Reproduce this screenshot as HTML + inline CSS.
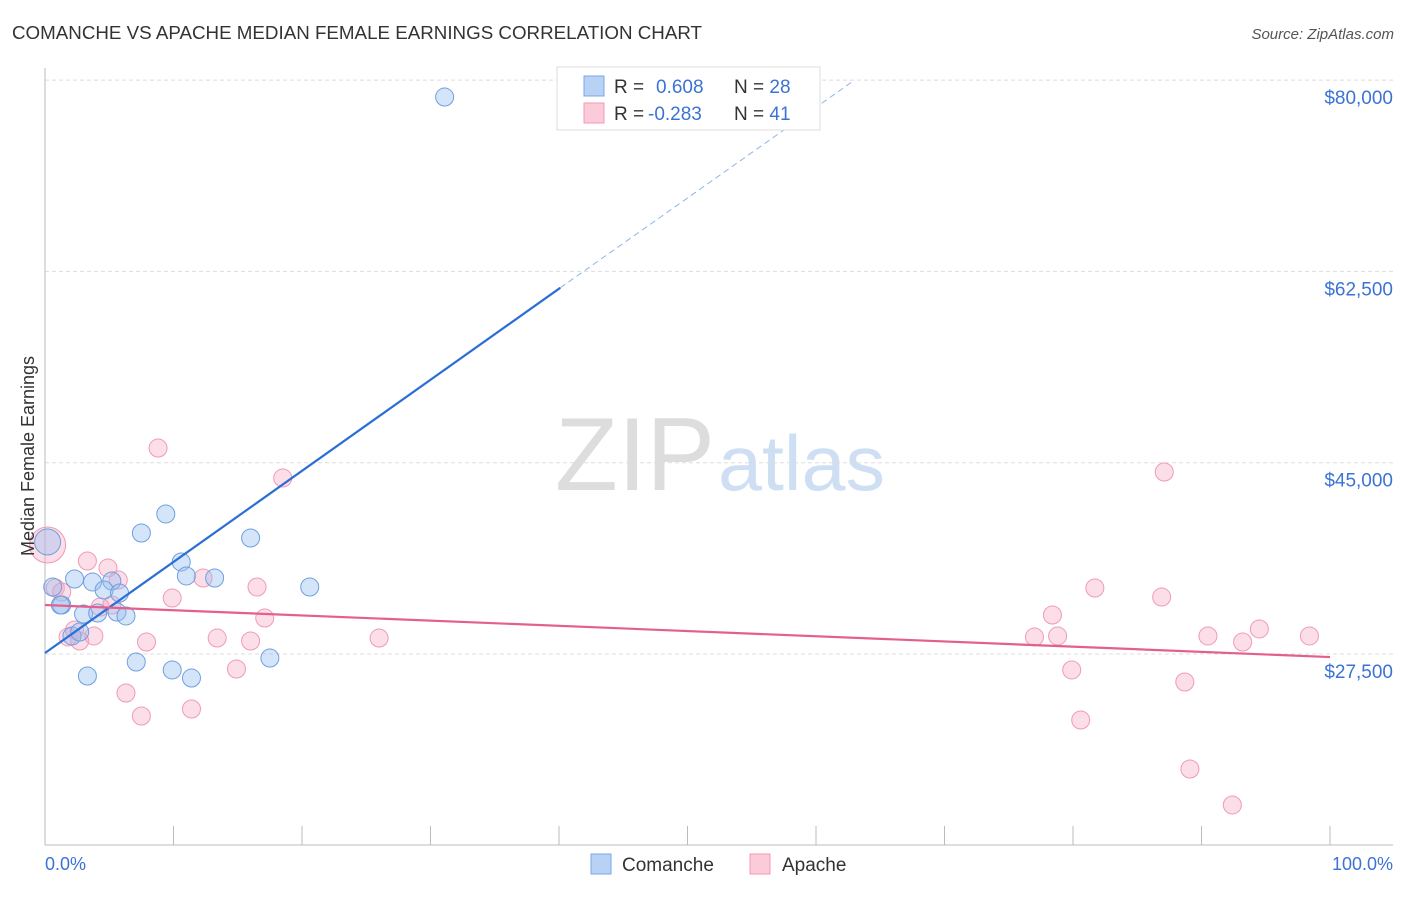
<!DOCTYPE html>
<html><head><meta charset="utf-8"><style>
body{margin:0;background:#fff;font-family:"Liberation Sans",sans-serif}
svg text{font-family:"Liberation Sans",sans-serif}
</style></head><body>
<svg id="c" width="1406" height="892" xmlns="http://www.w3.org/2000/svg">
<text x="12" y="39" font-size="18" fill="#333" textLength="690" lengthAdjust="spacingAndGlyphs">COMANCHE VS APACHE MEDIAN FEMALE EARNINGS CORRELATION CHART</text>
<text x="1394" y="39" font-size="15" fill="#555" font-style="italic" text-anchor="end">Source: ZipAtlas.com</text>
<text x="555" y="490" font-size="104" fill="#ddd" textLength="160" lengthAdjust="spacingAndGlyphs" font-family="Liberation Serif">ZIP</text>
<text x="718" y="490" font-size="78" fill="#cfdff3" textLength="167" lengthAdjust="spacingAndGlyphs">atlas</text>
<g id="grid"></g><g id="axes"></g><g id="pts"></g><g id="trend"></g>
<text transform="translate(34,456) rotate(-90)" font-size="18" fill="#333" text-anchor="middle">Median Female Earnings</text>
<text x="45" y="870" font-size="18" fill="#3b73d4">0.0%</text>
<text x="1393" y="870" font-size="18" fill="#3b73d4" text-anchor="end">100.0%</text>
<g>
<rect x="557" y="67" width="263" height="63" fill="#fff" stroke="#ddd"/>
<rect x="584" y="76" width="20" height="20" fill="#b7d2f5" stroke="#7aa7e6"/>
<rect x="584" y="103" width="20" height="20" fill="#fbcbd9" stroke="#f09ab6"/>
<text x="614" y="93" font-size="19" fill="#333">R = <tspan fill="#3b73d4" x="656">0.608</tspan><tspan x="734">N = </tspan><tspan fill="#3b73d4">28</tspan></text>
<text x="614" y="120" font-size="19" fill="#333">R = <tspan fill="#3b73d4" x="648">-0.283</tspan><tspan x="734">N = </tspan><tspan fill="#3b73d4">41</tspan></text>
</g>
<g>
<rect x="591" y="854" width="20" height="20" fill="#b7d2f5" stroke="#7aa7e6"/>
<text x="622" y="871" font-size="19" fill="#333">Comanche</text>
<rect x="750" y="854" width="20" height="20" fill="#fbcbd9" stroke="#f09ab6"/>
<text x="782" y="871" font-size="19" fill="#333">Apache</text>
</g>
</svg>
<script>
const yTicks=[27500,45000,62500,80000];
const yTickLabels=["$27,500","$45,000","$62,500","$80,000"];
const xTicks=[0,10,20,30,40,50,60,70,80,90,100];
const comancheX=[31.1,0.2,0.6,1.3,2.3,3.7,5.2,4.6,5.8,3.0,4.1,5.6,6.3,2.1,2.7,3.3,7.1,7.5,9.4,10.6,11.0,13.2,16.0,20.6,9.9,11.4,17.5,1.2];
const comancheY=[78450,37750,33630,31980,34360,34090,34180,33350,33080,31160,31250,31340,30980,29150,29510,25490,26770,38570,40310,35920,34640,34450,38110,33630,26040,25300,27130,31980];
const comancheR=[9,13,9,9,9,9,9,9,9,9,9,9,9,9,9,9,9,9,9,9,9,9,9,9,9,9,9,9];
const apacheX=[0.2,0.8,1.3,3.3,4.9,5.7,4.3,5.2,1.8,2.7,3.8,2.3,8.8,18.5,9.9,12.3,16.5,17.1,7.9,13.4,16.0,26.0,14.9,6.3,7.5,11.4,87.1,81.7,86.9,78.4,77.0,78.8,90.5,94.5,93.2,98.4,79.9,88.7,80.6,89.1,92.4];
const apacheY=[37470,33540,33170,36010,35370,34270,31800,31980,29060,28690,29150,29700,46340,43600,32620,34450,33630,30790,28600,28960,28690,28960,26130,23930,21830,22470,44150,33540,32710,31070,29060,29150,29150,29790,28600,29150,26040,24940,21460,16980,13690];
const apacheR=[18,9,9,9,9,9,9,9,9,9,9,9,9,9,9,9,9,9,9,9,9,9,9,9,9,9,9,9,9,9,9,9,9,9,9,9,9,9,9,9,9];
const comancheTrendX=[0,40.1,63.0];
const comancheTrendY=[27590,61000,80000];
const apacheTrendX=[0,100];
const apacheTrendY=[31980,27220];
const NS="http://www.w3.org/2000/svg";
const xs=p=>45+p*12.85;
const ys=v=>654-(v-27500)*191.3/17500;
function mk(t,a,parent){const e=document.createElementNS(NS,t);for(const k in a)e.setAttribute(k,a[k]);document.getElementById(parent).appendChild(e);return e;}
yTicks.forEach((v,i)=>{
 const g=mk('line',{x1:45,x2:1393,y1:ys(v),y2:ys(v),stroke:'#ddd','stroke-dasharray':'4,3'},'grid');
 
 
 const t=mk('text',{x:1393,y:ys(v)+24,'font-size':19,fill:'#3b73d4','text-anchor':'end'},'grid');
 t.textContent=yTickLabels[i];
 
 
});
let a=mk('line',{x1:45,x2:45,y1:68,y2:845,stroke:'#bbb'},'axes');


a=mk('line',{x1:45,x2:1393,y1:845,y2:845,stroke:'#bbb'},'axes');


xTicks.forEach(p=>{const t=mk('line',{x1:xs(p),x2:xs(p),y1:826,y2:845,stroke:'#bbb'},'axes');
 
 });
apacheX.forEach((x,i)=>{const c=mk('circle',{cx:xs(x),cy:ys(apacheY[i]),r:apacheR[i],fill:'rgba(246,160,189,0.35)',stroke:'#f09ab6','stroke-width':1},'pts');
 
 });
comancheX.forEach((x,i)=>{const c=mk('circle',{cx:xs(x),cy:ys(comancheY[i]),r:comancheR[i],fill:'rgba(150,190,240,0.4)',stroke:'#6f9fe0','stroke-width':1},'pts');
 
 });
let l=mk('line',{x1:xs(comancheTrendX[0]),y1:ys(comancheTrendY[0]),x2:xs(comancheTrendX[1]),y2:ys(comancheTrendY[1]),stroke:'#2a6fd6','stroke-width':2.2},'trend');


l=mk('line',{x1:xs(comancheTrendX[1]),y1:ys(comancheTrendY[1]),x2:xs(comancheTrendX[2]),y2:ys(comancheTrendY[2]),stroke:'#8fb3e8','stroke-width':1,'stroke-dasharray':'6,4'},'trend');


l=mk('line',{x1:xs(apacheTrendX[0]),y1:ys(apacheTrendY[0]),x2:xs(apacheTrendX[1]),y2:ys(apacheTrendY[1]),stroke:'#e4608c','stroke-width':2.2},'trend');


</script>
</body></html>
